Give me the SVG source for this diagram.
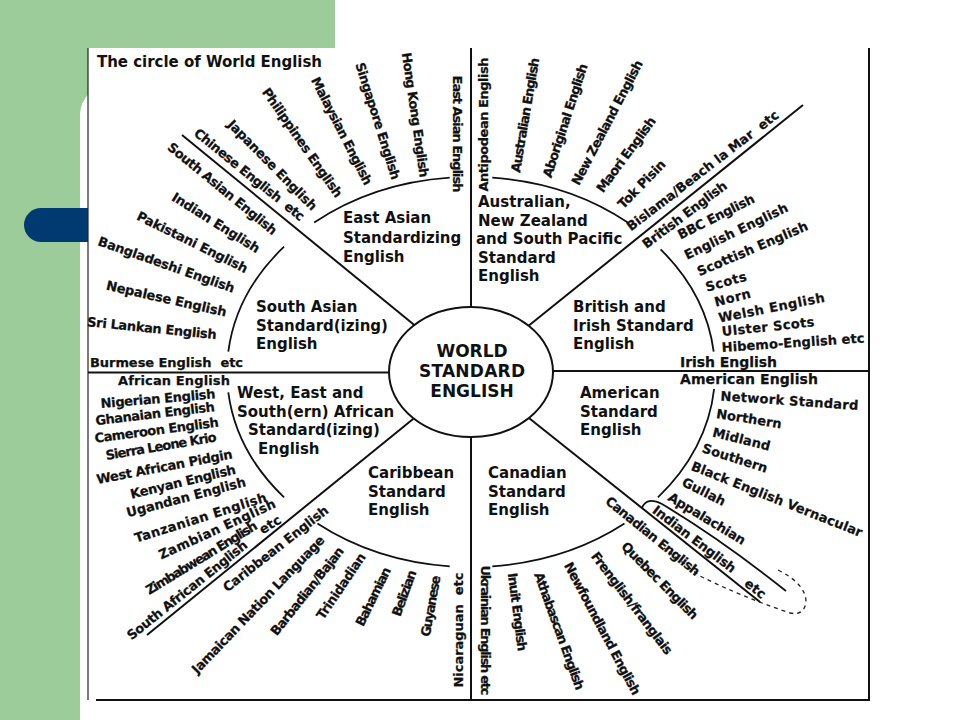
<svg xmlns="http://www.w3.org/2000/svg" width="960" height="720" viewBox="0 0 960 720">
<style>
text{font-family:"DejaVu Sans","Liberation Sans",sans-serif;font-weight:bold;fill:#111}
.o{font-size:13px;text-anchor:middle;stroke:#111;stroke-width:0.25}
.s{font-size:15px}
.c{font-size:17px;text-anchor:middle}
.pre{white-space:pre}
.ln{stroke:#111;stroke-width:2;fill:none}
.arc{stroke:#111;stroke-width:1.8;fill:none}
.dash{stroke:#222;stroke-width:1.3;fill:none;stroke-dasharray:4 4}
</style>
<g id="background">
<rect x="0" y="0" width="960" height="720" fill="#ffffff"/>
<rect x="0" y="0" width="335" height="120" fill="#9bcc99"/>
<rect x="0" y="0" width="80" height="720" fill="#9bcc99"/>
<rect x="80" y="85" width="900" height="700" rx="30" fill="#ffffff"/>
<rect x="24" y="208" width="100" height="34" rx="17" fill="#003a70"/>
<rect x="88" y="48" width="782" height="652" fill="#ffffff"/>
</g>
<g id="frame">
<line x1="88" y1="48" x2="88" y2="700" stroke="#222" stroke-width="1.2"/>
<line x1="869" y1="48" x2="869" y2="701" stroke="#111" stroke-width="2"/>
<line x1="96" y1="700" x2="869" y2="700" stroke="#111" stroke-width="2"/>
</g>
<text id="title" x="97" y="67" font-size="15" textLength="225">The circle of World English</text>
<g id="connectors">
<line class="ln" x1="471" y1="48" x2="471" y2="307"/>
<line class="ln" x1="471" y1="437" x2="471" y2="700"/>
<line class="ln" x1="88" y1="372.5" x2="389" y2="372.5"/>
<line class="ln" x1="553" y1="371" x2="869" y2="371"/>
<line class="ln" x1="182" y1="135" x2="414.3" y2="325.1"/>
<line class="ln" x1="803" y1="105" x2="528.6" y2="325.7"/>
<line class="ln" x1="147" y1="635" x2="413.7" y2="418.5"/>
<line class="ln" x1="528.9" y1="418" x2="760" y2="602"/>
<path class="arc" d="M314.2,222.6 A244,195 0 0 1 449.7,177.7"/>
<path class="arc" d="M492.3,177.7 A244,195 0 0 1 627.8,222.6"/>
<path class="arc" d="M660.6,249.3 A244,195 0 0 1 713.7,351.6"/>
<path class="arc" d="M714.1,389 A244,195 0 0 1 657.9,497.3"/>
<path class="arc" d="M624.5,523.5 A244,195 0 0 1 492.3,566.3"/>
<path class="arc" d="M449.7,566.3 A244,195 0 0 1 317.4,523.5"/>
<path class="arc" d="M284.1,497.3 A244,195 0 0 1 228.3,392.4"/>
<path class="arc" d="M228.3,351.6 A244,195 0 0 1 284.1,246.7"/>
<path class="arc" d="M642,508 C645,500 652,499 662,504 Q722,540 786,591"/>
<path class="dash" d="M778,570 Q806,584 806,602 Q804,616 790,613 Q740,596 700,576 L664,548"/>
</g>
<g id="world">
<ellipse cx="471" cy="372" rx="82" ry="65" fill="#fff" stroke="#111" stroke-width="2"/>
<text class="c" x="472" y="357">WORLD</text>
<text class="c" x="472" y="377" textLength="106">STANDARD</text>
<text class="c" x="472" y="397">ENGLISH</text>
</g>
<g id="east-asian">
<text class="s" x="343" y="223"><tspan x="343">East Asian</tspan><tspan x="343" dy="19.5">Standardizing</tspan><tspan x="343" dy="19.5">English</tspan></text>
<text class="o" y="4.7" textLength="117" transform="translate(458,134) rotate(90)">East Asian English</text>
<text class="o" y="4.7" textLength="126" transform="translate(415.5,115) rotate(81.7)">Hong Kong English</text>
<text class="o" y="4.7" textLength="122" transform="translate(378,121) rotate(72.5)">Singapore English</text>
<text class="o" y="4.7" textLength="119" transform="translate(342,131) rotate(63)">Malaysian English</text>
<text class="o" y="4.7" textLength="130" transform="translate(302.5,142.5) rotate(55.1)">Philippines English</text>
<text class="o" y="4.7" textLength="121" transform="translate(272.5,165) rotate(45.4)">Japanese English</text>
<text class="o pre" y="4.7" textLength="138" transform="translate(249.5,174.5) rotate(39.1)">Chinese English  etc</text>
</g>
<g id="south-asian">
<text class="s" x="256" y="312"><tspan x="256">South Asian</tspan><tspan x="256" dy="18.5">Standard(izing)</tspan><tspan x="256" dy="18.5">English</tspan></text>
<text class="o" y="4.7" textLength="137" transform="translate(222.5,188.5) rotate(39.3)">South Asian English</text>
<text class="o" y="4.7" textLength="101" transform="translate(216,222.5) rotate(32.1)">Indian English</text>
<text class="o" y="4.7" textLength="122" transform="translate(192.5,242) rotate(26.3)">Pakistani English</text>
<text class="o" y="4.7" textLength="144" transform="translate(166.5,264.5) rotate(19.5)">Bangladeshi English</text>
<text class="o" y="4.7" textLength="123" transform="translate(166.5,298.5) rotate(12.7)">Nepalese English</text>
<text class="o" y="4.7" textLength="130" transform="translate(152,328) rotate(5.7)">Sri Lankan English</text>
<text class="pre" x="90" y="367" font-size="13" textLength="153" stroke="#111" stroke-width="0.25">Burmese English  etc</text>
</g>
<g id="australian">
<text class="s" x="477" y="207"><tspan x="478">Australian,</tspan><tspan x="478" dy="18.5">New Zealand</tspan><tspan x="476" dy="18.5">and South Pacific</tspan><tspan x="478" dy="18.5">Standard</tspan><tspan x="478" dy="18.5">English</tspan></text>
<text class="o" y="4.7" textLength="134" transform="translate(483,124.5) rotate(-90)">Antipodean English</text>
<text class="o" y="4.7" textLength="116" transform="translate(525,115) rotate(-80.4)">Australian English</text>
<text class="o" y="4.7" textLength="119" transform="translate(565,120.5) rotate(-72.1)">Aboriginal English</text>
<text class="o" y="4.7" textLength="139" transform="translate(607,122.5) rotate(-62.4)">New Zealand English</text>
<text class="o" y="4.7" textLength="90" transform="translate(626,154.5) rotate(-53.6)">Maori English</text>
<text class="o" y="4.7" textLength="62" transform="translate(641.5,184) rotate(-45.8)">Tok Pisin</text>
<text class="o pre" y="4.7" textLength="188" transform="translate(702.5,170.5) rotate(-37.6)">Bislama/Beach la Mar  etc</text>
</g>
<g id="british">
<text class="s" x="573" y="312"><tspan x="573">British and</tspan><tspan x="573" dy="18.5">Irish Standard</tspan><tspan x="573" dy="18.5">English</tspan></text>
<text class="o" y="4.7" textLength="102" transform="translate(684.5,214.5) rotate(-37)">British English</text>
<text class="o" y="4.7" textLength="84" transform="translate(716,216.5) rotate(-26.6)">BBC English</text>
<text class="o" y="4.7" textLength="113" transform="translate(736,231) rotate(-25.6)">English English</text>
<text class="o" y="4.7" textLength="119" transform="translate(752.5,248.5) rotate(-23.1)">Scottish English</text>
<text class="o" y="4.7" textLength="42" transform="translate(726,281.5) rotate(-15.7)">Scots</text>
<text class="o" y="4.7" textLength="37" transform="translate(732.5,297.5) rotate(-14.5)">Norn</text>
<text class="o" y="4.7" textLength="108" transform="translate(771.5,307.5) rotate(-11.1)">Welsh English</text>
<text class="o" y="4.7" textLength="93" transform="translate(768,326.5) rotate(-6.1)">Ulster Scots</text>
<text class="o" y="4.7" textLength="143" transform="translate(793,342.5) rotate(-3.8)">Hibemo-English etc</text>
<text x="680" y="367" font-size="14" textLength="97" stroke="#111" stroke-width="0.25">Irish English</text>
</g>
<g id="american">
<text class="s" x="580" y="398"><tspan x="580">American</tspan><tspan x="580" dy="18.5">Standard</tspan><tspan x="580" dy="18.5">English</tspan></text>
<text x="680" y="384" font-size="14" textLength="138" stroke="#111" stroke-width="0.25">American English</text>
<text class="o" y="4.7" textLength="138" transform="translate(789.5,400.5) rotate(4)">Network Standard</text>
<text class="o" y="4.7" textLength="66" transform="translate(749,418.5) rotate(9.1)">Northern</text>
<text class="o" y="4.7" textLength="59" transform="translate(741.5,439) rotate(13.8)">Midland</text>
<text class="o" y="4.7" textLength="68" transform="translate(735,458) rotate(17.8)">Southern</text>
<text class="o" y="4.7" textLength="183" transform="translate(777,499) rotate(21.6)">Black English Vernacular</text>
<text class="o" y="4.7" textLength="47" transform="translate(704,491.5) rotate(26.6)">Gullah</text>
<text class="o" y="4.7" textLength="88" transform="translate(707,518.5) rotate(31.1)">Appalachian</text>
<text class="o" y="4.7" textLength="101" transform="translate(694.5,539) rotate(37.5)">Indian English</text>
<text class="o" y="4.7" textLength="23" transform="translate(755.5,588.5) rotate(39)">etc</text>
</g>
<g id="canadian">
<text class="s" x="488" y="478"><tspan x="488">Canadian</tspan><tspan x="488" dy="18.5">Standard</tspan><tspan x="488" dy="18.5">English</tspan></text>
<text class="o" y="4.7" textLength="117" transform="translate(653,536) rotate(39)">Canadian English</text>
<text class="o" y="4.7" textLength="103" transform="translate(660,580.5) rotate(45.4)">Quebec English</text>
<text class="o" y="4.7" textLength="125" transform="translate(632,603) rotate(52.7)">Frenglish/franglais</text>
<text class="o" y="4.7" textLength="148" transform="translate(602.5,628.5) rotate(62.1)">Newfoundland English</text>
<text class="o" y="4.7" textLength="124" transform="translate(559.5,631) rotate(70.1)">Athabascan English</text>
<text class="o" y="4.7" textLength="79" transform="translate(517.5,612) rotate(82.7)">Inuit English</text>
<text class="o" y="4.7" textLength="130" transform="translate(486,630.5) rotate(90)">Ukrainian English etc</text>
</g>
<g id="caribbean">
<text class="s" x="368" y="478"><tspan x="368">Caribbean</tspan><tspan x="368" dy="18.5">Standard</tspan><tspan x="368" dy="18.5">English</tspan></text>
<text class="o pre" y="4.7" textLength="115" transform="translate(458,630) rotate(-90)">Nicaraguan  etc</text>
<text class="o" y="4.7" textLength="62" transform="translate(430.5,606) rotate(-80)">Guyanese</text>
<text class="o" y="4.7" textLength="48" transform="translate(404,593) rotate(-70)">Belizian</text>
<text class="o" y="4.7" textLength="64" transform="translate(373,596.5) rotate(-64)">Bahamian</text>
<text class="o" y="4.7" textLength="77" transform="translate(341,586) rotate(-56)">Trinidadian</text>
<text class="o" y="4.7" textLength="109" transform="translate(307,591) rotate(-51.5)">Barbadian/Bajan</text>
<text class="o" y="4.7" textLength="185" transform="translate(258,604.5) rotate(-46.2)">Jamaican Nation Language</text>
<text class="o" y="4.7" textLength="130" transform="translate(275.5,548.5) rotate(-38.3)">Caribbean English</text>
</g>
<g id="african">
<text class="s" x="237" y="398"><tspan x="237">West, East and</tspan><tspan x="237" dy="18.5">South(ern) African</tspan><tspan x="248" dy="18.5">Standard(izing)</tspan><tspan x="258" dy="18.5">English</tspan></text>
<text x="118" y="385" font-size="13" textLength="112" stroke="#111" stroke-width="0.25">African English</text>
<text class="o" y="4.7" textLength="115" transform="translate(158,398.5) rotate(-4.9)">Nigerian English</text>
<text class="o" y="4.7" textLength="120" transform="translate(155,413.5) rotate(-6.7)">Ghanaian English</text>
<text class="o" y="4.7" textLength="125" transform="translate(156.5,430) rotate(-7.4)">Cameroon English</text>
<text class="o" y="4.7" textLength="112" transform="translate(161,446) rotate(-9.5)">Sierra Leone Krio</text>
<text class="o" y="4.7" textLength="138" transform="translate(164.5,466.5) rotate(-10.7)">West African Pidgin</text>
<text class="o" y="4.7" textLength="108" transform="translate(183,481.5) rotate(-13.5)">Kenyan English</text>
<text class="o" y="4.7" textLength="123" transform="translate(186,497) rotate(-14.8)">Ugandan English</text>
<text class="o" y="4.7" textLength="138" transform="translate(200.5,517.5) rotate(-17.6)">Tanzanian English</text>
<text class="o" y="4.7" textLength="127" transform="translate(217,529) rotate(-24.5)">Zambian English</text>
<text class="o" y="4.3" font-size="12" textLength="128" transform="translate(201.5,558) rotate(-31.5)">Zimbabwean English</text>
<text class="o" y="4.7" textLength="23" transform="translate(270,524.5) rotate(-32)">etc</text>
<text class="o" y="4.7" textLength="150" transform="translate(187,590) rotate(-38.7)">South African English</text>
</g>
</svg>
